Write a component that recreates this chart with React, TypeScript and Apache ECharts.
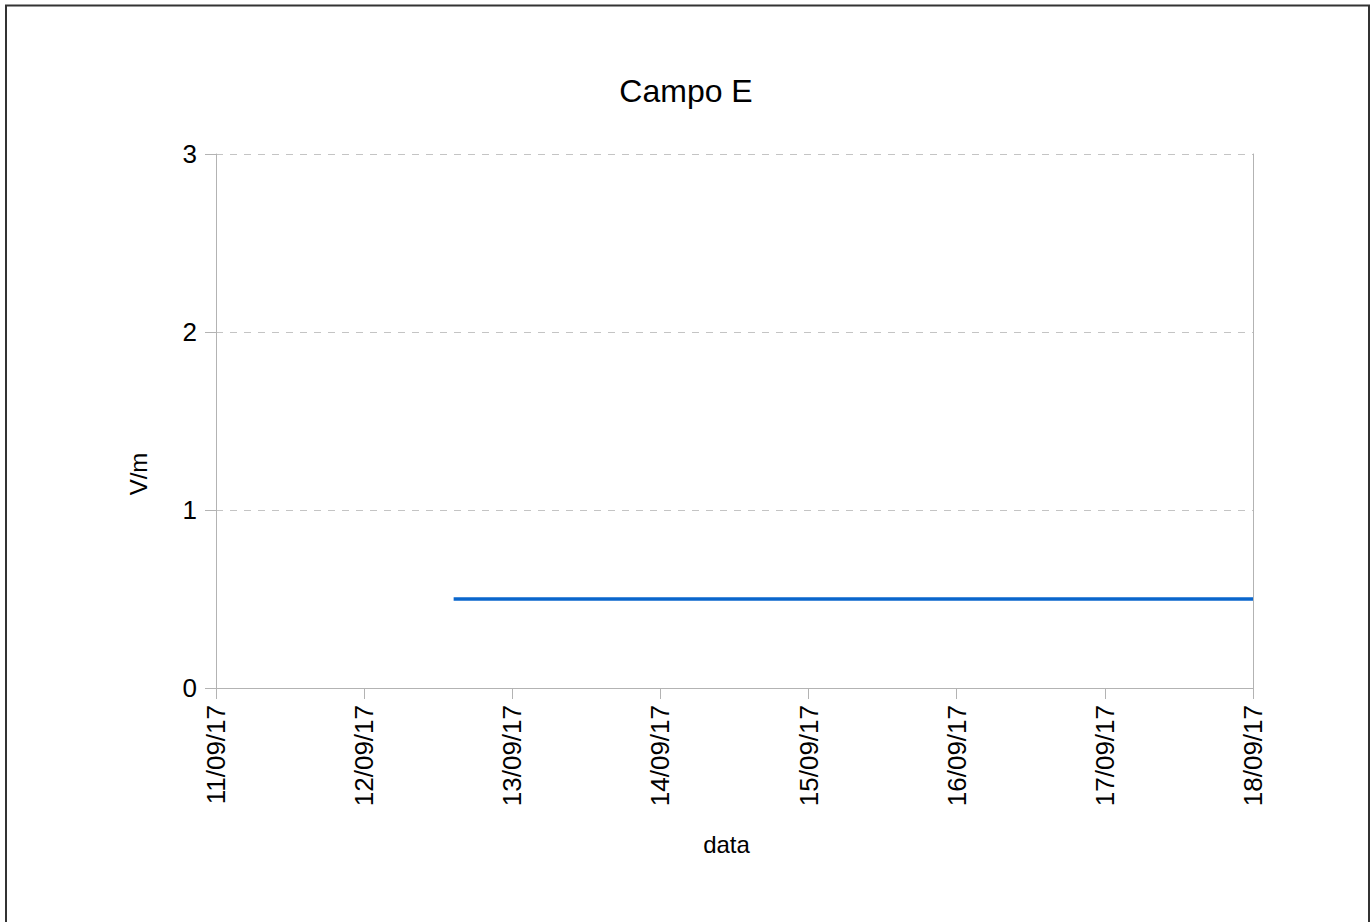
import React, { useEffect, useRef } from "react";
import * as echarts from "echarts";

const titleText = "Campo E";
const xAxisName = "data";
const yAxisName = "V/m";
const times = ["2017-09-12T14:30:00", "2017-09-18T00:00:00"];
const values = [0.5, 0.5];
const xStart = "2017-09-11T00:00:00";
const xEnd = "2017-09-18T00:00:00";
const yMin = 0;
const yMax = 3;
const yStep = 1;

const DAY = 86400000;
const FONT = "'Liberation Sans', Arial, sans-serif";

export default function App() {
  const ref = useRef<HTMLDivElement>(null);
  useEffect(() => {
    if (!ref.current) return;
    const chart = echarts.init(ref.current, null, { renderer: "svg" });
    const pad = (n: number) => (n < 10 ? "0" + n : "" + n);
    chart.setOption({
      animation: false,
      backgroundColor: "#ffffff",
      textStyle: { fontFamily: FONT },
      title: {
        text: titleText,
        left: "center",
        top: 75,
        padding: 0,
        textStyle: { fontFamily: FONT, fontSize: 32, fontWeight: "normal", color: "#000" },
      },
      graphic: [
        {
          type: "rect",
          shape: { x: 6, y: 5.5, width: 1363, height: 1000 },
          style: { fill: "none", stroke: "#333", lineWidth: 2 },
          silent: true,
        },
        {
          type: "text",
          x: 138,
          y: 474,
          rotation: Math.PI / 2,
          silent: true,
          style: {
            text: yAxisName,
            fontFamily: FONT,
            fontSize: 24,
            fill: "#000",
            align: "center",
            verticalAlign: "middle",
          },
        },
      ],
      grid: { left: 216, right: 119, top: 154, bottom: 234, containLabel: false },
      xAxis: {
        type: "time",
        min: new Date(xStart).getTime(),
        max: new Date(xEnd).getTime(),
        interval: DAY,
        splitNumber: 7,
        name: xAxisName,
        nameLocation: "middle",
        nameGap: 144,
        nameTextStyle: { fontFamily: FONT, fontSize: 24, color: "#000", padding: [0, 16, 0, 0] },
        axisLine: { show: true, lineStyle: { color: "#b3b3b3", width: 1 } },
        axisTick: { show: true, length: 11, lineStyle: { color: "#b3b3b3" } },
        splitLine: { show: false },
        axisLabel: {
          rotate: 90,
          margin: 17,
          fontFamily: FONT,
          fontSize: 26,
          color: "#000",
          showMinLabel: true,
          showMaxLabel: true,
          formatter: (v: number) => {
            const d = new Date(v);
            return pad(d.getDate()) + "/" + pad(d.getMonth() + 1) + "/" + pad(d.getFullYear() % 100);
          },
        },
      },
      yAxis: [
        {
          type: "value",
          min: yMin,
          max: yMax,
          interval: yStep,
          axisLine: { show: true, lineStyle: { color: "#b3b3b3", width: 1 } },
          axisTick: { show: true, length: 11, lineStyle: { color: "#b3b3b3" } },
          splitLine: { show: true, lineStyle: { color: "#c4c4c4", type: [7, 7], width: 1 } },
          axisLabel: { margin: 19, fontFamily: FONT, fontSize: 26, color: "#000" },
        },
        {
          type: "value",
          position: "right",
          min: yMin,
          max: yMax,
          interval: yStep,
          axisLine: { show: true, lineStyle: { color: "#b3b3b3", width: 1 } },
          axisTick: { show: false },
          axisLabel: { show: false },
          splitLine: { show: false },
        },
      ],
      series: [
        {
          type: "line",
          data: times.map((t, i) => [new Date(t).getTime(), values[i]]),
          showSymbol: false,
          symbol: "none",
          lineStyle: { color: "#0a66cc", width: 3.5 },
          itemStyle: { color: "#0a66cc" },
        },
      ],
    });
    return () => chart.dispose();
  }, []);
  return (
    <div
      ref={ref}
      style={{ position: "fixed", left: 0, top: 0, width: 1372, height: 922 }}
    />
  );
}
